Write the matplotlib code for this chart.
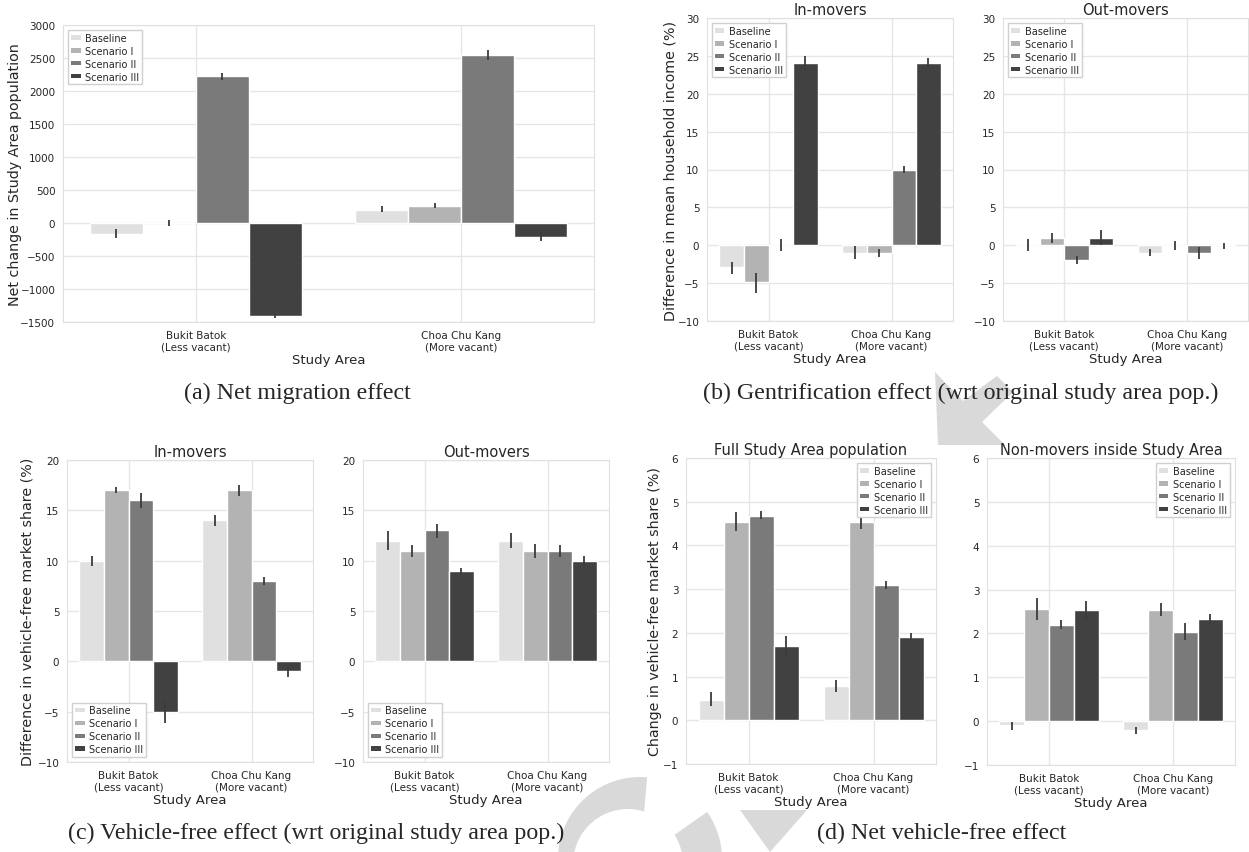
import matplotlib
matplotlib.use('Agg')
import matplotlib.pyplot as plt
import seaborn as sns
import numpy as np
from matplotlib.patches import Patch, Polygon, Wedge, Circle
from matplotlib.transforms import IdentityTransform

sns.set_style("whitegrid")
plt.rcParams['font.family'] = ['DejaVu Sans']

areas = ["Bukit Batok\n(Less vacant)", "Choa Chu Kang\n(More vacant)"]
scenarios = ["Baseline", "Scenario I", "Scenario II", "Scenario III"]
colors = ["#e0e0e0", "#b3b3b3", "#7a7a7a", "#414141"]

# each array: rows = scenario, cols = area (Bukit Batok, Choa Chu Kang)
# (a) net migration
a_mean = [[-160, 202], [5, 263], [2220, 2545], [-1414, -207]]
a_lo = [[-232, 162], [-40, 222], [2172, 2475], [-1444, -268]]
a_hi = [[-91, 252], [50, 303], [2273, 2626], [-1385, -141]]

# (b) gentrification, in-movers / out-movers
b_in_mean = [[-2.9, -0.97], [-4.9, -1.0], [0.0, 10.0], [24.0, 24.0]]
b_in_lo = [[-3.8, -1.85], [-6.3, -1.5], [-0.8, 9.6], [23.1, 23.35]]
b_in_hi = [[-2.2, -0.1], [-3.7, -0.45], [0.8, 10.5], [25.0, 24.75]]
b_out_mean = [[0.0, -0.97], [0.97, 0.0], [-1.94, -1.0], [1.0, 0.0]]
b_out_lo = [[-0.8, -1.4], [0.35, -0.6], [-2.5, -1.8], [0.0, -0.45]]
b_out_hi = [[0.8, -0.53], [1.67, 0.6], [-1.4, -0.2], [2.0, 0.35]]

# (c) vehicle-free, in-movers / out-movers
c_in_mean = [[10, 14], [17, 17], [16, 8], [-5, -1]]
c_in_lo = [[9.5, 13.4], [16.7, 16.45], [15.25, 7.55], [-6.14, -1.57]]
c_in_hi = [[10.5, 14.56], [17.3, 17.5], [16.7, 8.36], [-3.96, -0.56]]
c_out_mean = [[12, 12], [11, 11], [13, 11], [9, 10]]
c_out_lo = [[11.1, 11.3], [10.4, 10.26], [12.3, 10.4], [8.64, 9.5]]
c_out_hi = [[12.9, 12.7], [11.56, 11.65], [13.66, 11.6], [9.3, 10.5]]

# (d) net vehicle-free, full population / non-movers
d_full_mean = [[0.47, 0.78], [4.53, 4.54], [4.68, 3.1], [1.69, 1.91]]
d_full_lo = [[0.32, 0.64], [4.32, 4.37], [4.6, 3.0], [1.47, 1.82]]
d_full_hi = [[0.64, 0.92], [4.76, 4.73], [4.79, 3.19], [1.92, 2.0]]
d_non_mean = [[-0.09, -0.21], [2.55, 2.53], [2.19, 2.04], [2.53, 2.32]]
d_non_lo = [[-0.21, -0.3], [2.31, 2.39], [2.09, 1.86], [2.3, 2.2]]
d_non_hi = [[-0.02, -0.14], [2.8, 2.69], [2.3, 2.23], [2.75, 2.44]]

W, H = 1249, 853
fig = plt.figure(figsize=(W / 100, H / 100), dpi=100)


def make_ax(l, r, t, b):
    return fig.add_axes([l / W, 1 - b / H, (r - l) / W, (b - t) / H])


def bar_panel(ax, mean, lo, hi, ylim, step, title=None, ylabel=None, legend_loc=None,
              ylabel_x=None):
    x = np.arange(len(areas))
    for i, s in enumerate(scenarios):
        m = np.array(mean[i])
        err = [m - np.array(lo[i]), np.array(hi[i]) - m]
        ax.bar(x - 0.3 + 0.2 * i, m, 0.2, color=colors[i], edgecolor="white",
               linewidth=1, label=s, zorder=2)
        ax.errorbar(x - 0.3 + 0.2 * i, m, yerr=err, fmt="none", ecolor="#3c3c3c",
                    elinewidth=1.3, capsize=0, zorder=3)
    ax.set_xlim(-0.5, 1.5)
    ax.set_ylim(*ylim)
    ax.set_yticks(np.arange(ylim[0], ylim[1] + step / 2, step))
    ax.set_xticks(x)
    ax.set_xticklabels(areas, fontsize=7.5)
    ax.tick_params(axis="y", labelsize=7.5, pad=2)
    ax.tick_params(axis="x", pad=2)
    ax.set_xlabel("Study Area", fontsize=9.5, labelpad=1)
    ax.grid(True, color="#e6e6e6", linewidth=1)
    ax.set_axisbelow(True)
    for sp in ax.spines.values():
        sp.set_color("#e0e0e0")
    if title:
        ax.set_title(title, fontsize=10.5, pad=3)
    if ylabel:
        ax.set_ylabel(ylabel, fontsize=10.3)
        if ylabel_x is not None:
            # label's right edge at given pixel column
            bb = ax.get_position()
            ax.yaxis.set_label_coords((ylabel_x / W - bb.x0) / bb.width, 0.5)
    handles = [Patch(facecolor=c, edgecolor="none") for c in colors]
    ax.legend(handles, scenarios, loc=legend_loc, fontsize=7, frameon=True,
              handlelength=1.0, handleheight=0.35, handletextpad=0.5,
              labelspacing=0.3, borderpad=0.3, fancybox=False,
              edgecolor="#d0d0d0", framealpha=1)


ax = make_ax(63, 594, 26, 323)
bar_panel(ax, a_mean, a_lo, a_hi, (-1500, 3000), 500,
          ylabel="Net change in Study Area population", legend_loc="upper left",
          ylabel_x=22)

ax = make_ax(707, 953, 19, 322)
bar_panel(ax, b_in_mean, b_in_lo, b_in_hi, (-10, 30), 5, title="In-movers",
          ylabel="Difference in mean household income (%)", legend_loc="upper left",
          ylabel_x=677)
ax = make_ax(1003, 1248, 19, 322)
bar_panel(ax, b_out_mean, b_out_lo, b_out_hi, (-10, 30), 5, title="Out-movers",
          legend_loc="upper left")

ax = make_ax(67, 313, 461, 763)
bar_panel(ax, c_in_mean, c_in_lo, c_in_hi, (-10, 20), 5, title="In-movers",
          ylabel="Difference in vehicle-free market share (%)", legend_loc="lower left",
          ylabel_x=35)
ax = make_ax(363, 609, 461, 763)
bar_panel(ax, c_out_mean, c_out_lo, c_out_hi, (-10, 20), 5, title="Out-movers",
          legend_loc="lower left")

ax = make_ax(686, 936, 459, 765)
bar_panel(ax, d_full_mean, d_full_lo, d_full_hi, (-1, 6), 1,
          title="Full Study Area population",
          ylabel="Change in vehicle-free market share (%)", legend_loc="upper right",
          ylabel_x=662)
ax = make_ax(987, 1235, 459, 766)
bar_panel(ax, d_non_mean, d_non_lo, d_non_hi, (-1, 6), 1,
          title="Non-movers inside Study Area", legend_loc="upper right")

# faint grey watermark shapes behind everything (pixel coords, y from top)
wm = "#d9d9d9"
ident = IdentityTransform()
arrow = [(938, 446), (935, 373), (963, 402), (997, 377), (1013, 393), (982, 423), (1005, 446)]
fig.patches.append(Polygon([(px, H - py) for px, py in arrow], closed=True,
                           facecolor=wm, edgecolor="none", transform=ident, zorder=-2))
fig.patches.append(Wedge((640, H - 860), 82, 85, 395, facecolor=wm, edgecolor="none",
                         transform=ident, zorder=-2))
fig.patches.append(Circle((628, H - 865), 55, facecolor="white", edgecolor="none",
                          transform=ident, zorder=-1))
tri = [(740, 811), (807, 811), (770, 853)]
fig.patches.append(Polygon([(px, H - py) for px, py in tri], closed=True,
                           facecolor=wm, edgecolor="none", transform=ident, zorder=-2))

cap = dict(family="Liberation Serif", fontsize=17.3, ha="center", va="center")
fig.text(297 / W, 1 - 393 / H, "(a) Net migration effect", **cap)
fig.text(961 / W, 1 - 393 / H, "(b) Gentrification effect (wrt original study area pop.)", **cap)
fig.text(316 / W, 1 - 833 / H, "(c) Vehicle-free effect (wrt original study area pop.)", **cap)
fig.text(942 / W, 1 - 833 / H, "(d) Net vehicle-free effect", **cap)

fig.savefig("out.png", dpi=100)
